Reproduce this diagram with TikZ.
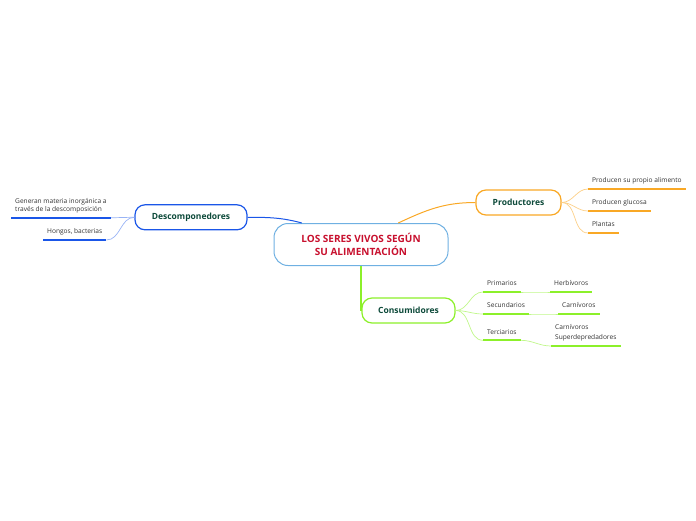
\documentclass[tikz,border=0pt]{standalone}
\usepackage{fontspec}
\setmainfont{Open Sans}
\usetikzlibrary{positioning}
\definecolor{rootred}{HTML}{C8102E}
\definecolor{rootblue}{HTML}{6FB0E2}
\definecolor{deepgreen}{HTML}{0D4A3A}
\definecolor{mapblue}{HTML}{1A56E8}
\definecolor{maporange}{HTML}{F9A825}
\definecolor{mapgreen}{HTML}{8CF02A}
\definecolor{leafgray}{HTML}{333333}

\begin{document}
\begin{tikzpicture}[x=1pt, y=-1pt,
  topic/.style={draw, rounded corners=10pt, line width=1.2pt, fill=white, minimum height=25pt, text=deepgreen, font=\fontsize{8.5}{10}\selectfont\bfseries},
  leaf/.style={anchor=south west, inner xsep=4pt, inner ysep=0pt, text depth=6pt, align=left, text=leafgray, font=\fontsize{6.6}{8.4}\selectfont},
  uline/.style={line width=2pt},
  twig/.style={line width=.7pt}]
\useasboundingbox (0,0) rectangle (696,520);
\node[draw=rootblue, line width=1pt, rounded corners=14pt, fill=white, minimum width=174pt, minimum height=42pt, text=rootred, align=center, font=\fontsize{10}{12.7}\selectfont\bfseries] (root) at (361,244.5) {LOS SERES VIVOS SEGÚN\\SU ALIMENTACIÓN};
\node[topic, draw=mapblue, minimum width=112pt] (desc) at (191,217.3) {Descomponedores};
\node[topic, draw=maporange, minimum width=85pt] (prod) at (518.5,202.5) {Productores};
\node[topic, draw=mapgreen, minimum width=93pt] (cons) at (408.5,310.5) {Consumidores};
\draw[mapblue, line width=1pt] (desc.east) to[out=0, in=165] (root.160);
\draw[maporange, line width=1pt] (root.30) to[out=25, in=180] (prod.west);
\draw[mapgreen, line width=2pt] (root.south -| cons.west) -- (cons.west);
\node[leaf] (gen) at (11,217.7) {Generan materia inorgánica a\\través de la descomposición};
\node[leaf] (hong) at (43,240) {Hongos, bacterias};
\draw[mapblue!45, twig] (desc.west) to[out=180, in=0] (gen.south east);
\draw[mapblue!45, twig] (desc.west) to[out=180, in=0] (hong.south east);
\draw[mapblue, uline] (gen.south west) -- (gen.south east);
\draw[mapblue, uline] (hong.south west) -- (hong.south east);
\node[leaf] (alim) at (588,189) {Producen su propio alimento};
\node[leaf] (gluc) at (588,211) {Producen glucosa};
\node[leaf] (plan) at (588,233) {Plantas};
\foreach \n in {alim,gluc,plan} {
  \draw[maporange!55, twig] (prod.east) to[out=0, in=180] (\n.south west);
  \draw[maporange, uline] (\n.south west) -- (\n.south east);
}
\node[leaf] (prim) at (483,292) {Primarios};
\node[leaf] (sec) at (483,314) {Secundarios};
\node[leaf] (ter) at (483,340.3) {Terciarios};
\node[leaf] (herb) at (550,292) {Herbívoros};
\node[leaf] (carn) at (558,314) {Carnívoros};
\node[leaf] (super) at (551,346) {Carnívoros\\[1.6pt]Superdepredadores};
\foreach \a/\b in {prim/herb,sec/carn,ter/super} {
  \draw[mapgreen!55, twig] (cons.east) to[out=0, in=180] (\a.south west);
  \draw[mapgreen!55, twig] (\a.south east) to[out=0, in=180] (\b.south west);
  \draw[mapgreen, uline] (\a.south west) -- (\a.south east);
  \draw[mapgreen, uline] (\b.south west) -- (\b.south east);
}
\end{tikzpicture}
\end{document}
